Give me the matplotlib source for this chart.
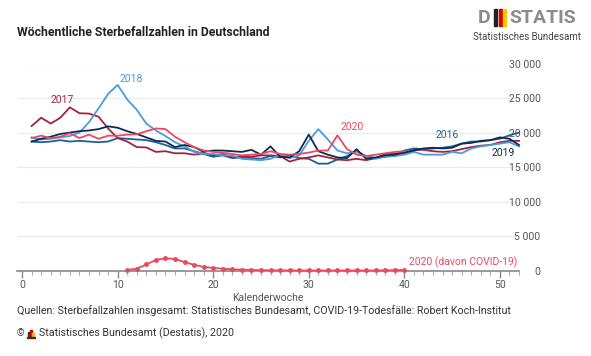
import matplotlib
matplotlib.use("Agg")
import matplotlib.pyplot as plt
from matplotlib.patches import Rectangle
from matplotlib.ticker import MultipleLocator, FuncFormatter

weeks = list(range(1, 53))
s2016 = [18700,18600,18700,18900,18700,18800,18700,18600,18700,19200,19100,19000,18900,18600,18200,17700,17700,17300,16900,16500,16700,16300,16400,16300,16200,16600,16400,16700,16300,16200,15500,15500,16100,16600,17300,16600,16300,16500,16700,17400,17700,17600,17700,17800,18000,18400,18700,18700,18900,19100,19600,20000]
s2017 = [20950,22150,21300,22150,23650,22800,22750,22300,20600,19200,18700,17900,17850,17200,17300,17000,17000,16800,17000,16700,16900,16400,16600,16500,16700,16700,16600,15800,16200,16400,16700,16400,16100,16000,16200,16000,16300,16900,17000,17000,17500,17500,17300,17200,17300,17600,17900,18100,18200,18600,18800,18800]
s2018 = [19300,19000,19100,19300,19500,20000,21500,23500,25600,26900,24800,23300,21300,20300,19500,18600,18000,17200,16900,16900,16700,16700,16200,16100,16000,16200,16800,16300,16700,18800,20500,19000,17400,17000,17200,16500,16200,16500,16600,16800,17200,16800,16800,16800,17200,17000,17700,18000,18200,18400,18600,18000]
s2019 = [18700,19100,19400,19800,20000,20200,20300,20500,20900,20700,20200,19800,19300,18800,18700,17900,18200,17900,17200,17400,17400,17300,17200,17500,16800,18000,16500,16400,17300,19700,17300,16800,16400,16300,17600,16200,16400,16700,16800,17100,17400,17700,17800,17700,17800,18400,18500,18800,18900,19300,19100,18200]
weeks2020 = list(range(1, 41))
s2020 = [19200,19550,19200,19400,19900,19200,19700,19100,19550,19550,19700,19750,20200,20600,20500,19400,18600,17900,17400,17200,17100,16900,16700,16800,16900,17300,16900,16800,16900,17100,17400,17400,19600,17600,16800,16600,16800,17000,17200,17300]
weeks_covid = list(range(11, 41))
covid = [100,300,900,1550,1800,1700,1250,850,550,400,300,200,150,100,80,60,50,40,30,30,30,30,30,30,30,30,40,50,70,100]

c2016 = "#1d5f98"
c2017 = "#a3233f"
c2018 = "#4a9be0"
c2019 = "#0e2c50"
c2020 = "#ea4a60"
grey = "#555555"

plt.rcParams['font.family'] = ['Roboto', 'DejaVu Sans']

W, H = 591, 356
fig = plt.figure(figsize=(W/100, H/100), dpi=100)
L, R, B, T = 17.3, 519, 270.7, 63.5
ax = fig.add_axes([L/W, 1-B/H, (R-L)/W, (B-T)/H])
ax.set_xlim(-0.5, 52)
ax.set_ylim(0, 30000)

for s in ['top', 'right', 'left']:
    ax.spines[s].set_visible(False)
ax.spines['bottom'].set_color('#888888')
ax.spines['bottom'].set_linewidth(1.2)
ax.yaxis.grid(True, color='#ebebeb', lw=0.9)
ax.set_axisbelow(True)
ax.tick_params(axis='y', left=False, right=False, labelleft=False, labelright=True,
               labelsize=7.5, labelcolor=grey, pad=12)
for lab in ax.get_yticklabels():
    lab.set_horizontalalignment('right')
ax.yaxis.set_major_locator(MultipleLocator(5000))
ax.yaxis.set_major_formatter(FuncFormatter(lambda v, p: f"{int(v):,}".replace(",", " ")))
ax.xaxis.set_major_locator(MultipleLocator(10))
ax.xaxis.set_minor_locator(MultipleLocator(1))
ax.tick_params(axis='x', which='major', length=5, width=1, color='#888888',
               labelsize=7.5, labelcolor=grey, pad=1.5)
ax.tick_params(axis='x', which='minor', length=3, width=0.8, color='#aaaaaa')

lw = 1.3
ax.plot(weeks, s2016, color=c2016, lw=lw, clip_on=False)
ax.plot(weeks, s2017, color=c2017, lw=lw, clip_on=False)
ax.plot(weeks, s2018, color=c2018, lw=lw, clip_on=False)
ax.plot(weeks, s2019, color=c2019, lw=lw, clip_on=False)
ax.plot(weeks2020, s2020, color=c2020, lw=lw, clip_on=False)
ax.plot(weeks_covid, covid, color=c2020, lw=1.3, marker='o', ms=2.5, clip_on=False, zorder=5)

fs = 7.5
ax.text(4.2, 24700, "2017", color=c2017, fontsize=fs, ha='center', va='center')
ax.text(11.4, 27800, "2018", color=c2018, fontsize=fs, ha='center', va='center')
ax.text(34.5, 20800, "2020", color=c2020, fontsize=fs, ha='center', va='center')
ax.text(44.5, 19700, "2016", color=c2016, fontsize=fs, ha='center', va='center')
ax.text(50.3, 17000, "2019", color=c2019, fontsize=fs, ha='center', va='center')
ax.text(51.8, 1200, "2020 (davon COVID-19)", color=c2020, fontsize=fs, ha='right', va='center')

fig.text(268/W, 1-298/H, "Kalenderwoche", fontsize=7.5, color=grey, ha='center', va='center')

fig.text(17/W, 1-33/H, "Wöchentliche Sterbefallzahlen in Deutschland", fontsize=8.8,
         fontweight='bold', color='#222222', ha='left', va='center')
fig.text(17/W, 1-311/H, "Quellen: Sterbefallzahlen insgesamt: Statistisches Bundesamt, COVID-19-Todesfälle: Robert Koch-Institut",
         fontsize=7.7, color='#333333', ha='left', va='center')
fig.text(17/W, 1-333/H, "©", fontsize=7, color='#333333', ha='left', va='center')
# small bar icon
for i, (hh, cc) in enumerate([(5, '#333333'), (7, '#d00000'), (4, '#f0b800')]):
    fig.patches.append(Rectangle(((28+i*2.2)/W, 1-337/H), 1.8/W, hh/H, transform=fig.transFigure,
                                 color=cc))
fig.patches.append(Rectangle((27/W, 1-337.5/H), 8/W, 0.8/H, transform=fig.transFigure, color='#333333'))
fig.text(39/W, 1-333/H, "Statistisches Bundesamt (Destatis), 2020", fontsize=7.7, color='#333333',
         ha='left', va='center')

# logo
logo_grey = '#8c8c8c'
fig.text(478/W, 1-18/H, "D", fontsize=14, fontweight='bold', color=logo_grey, ha='left', va='center')
for i, cc in enumerate(['#222222', '#dd0000', '#ffcc00']):
    fig.patches.append(Rectangle(((494+i*4.5)/W, 1-26/H), 3.0/W, 17/H, transform=fig.transFigure, color=cc))
fig.text(509/W, 1-18/H, "STATIS", fontsize=14, fontweight='bold', color=logo_grey, ha='left', va='center')
fig.text(581/W, 1-37/H, "Statistisches Bundesamt", fontsize=7, color='#444444', ha='right', va='center')

fig.savefig("out.png", dpi=100)
